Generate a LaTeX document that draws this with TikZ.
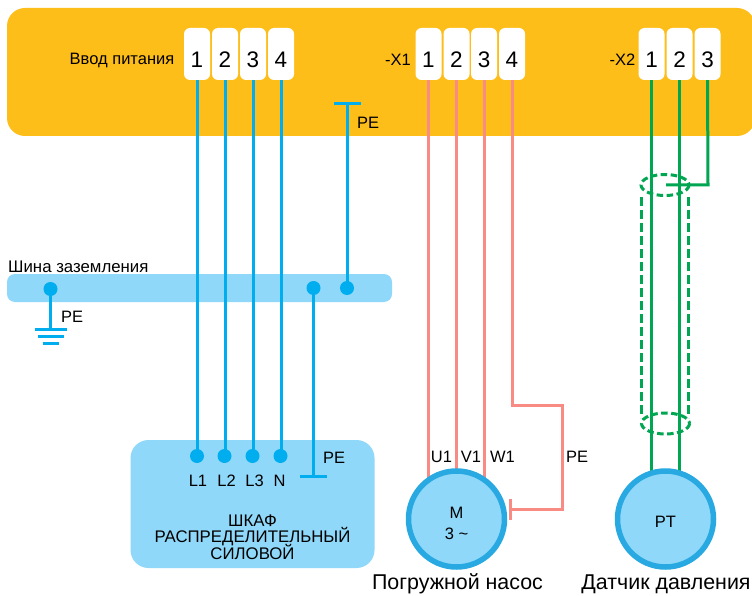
\documentclass[tikz,border=0pt]{standalone}
\usepackage{fontspec}
\setmainfont{Liberation Sans}
\definecolor{amberc}{HTML}{FEBE1A}
\definecolor{lightb}{HTML}{8FD8F9}
\definecolor{wireb}{HTML}{00AEEF}
\definecolor{ringb}{HTML}{29A9E1}
\definecolor{wirep}{HTML}{F98B85}
\definecolor{wireg}{HTML}{00A651}
\newcommand{\tightlines}{\setlength{\lineskiplimit}{-20pt}}
\tikzset{
  lbl/.style={inner sep=0pt,font=\fontsize{16.5}{18}\selectfont,text=black},
  biglbl/.style={inner sep=0pt,font=\fontsize{21.4}{24}\selectfont,text=black},
  termbox/.style={draw=none,fill=white,rounded corners=6pt,minimum width=26pt,minimum height=52pt,inner sep=0pt,font=\fontsize{22.5}{24}\selectfont,text=black},
  busw/.style={draw=wireb,line width=3pt},
  pinkw/.style={draw=wirep,line width=3pt},
  greenw/.style={draw=wireg,line width=3pt},
  shield/.style={draw=wireg,line width=3pt,dash pattern=on 6.5pt off 3.5pt},
  shieldside/.style={draw=wireg,line width=3pt,dash pattern=on 9pt off 4pt},
  dotb/.style={circle,fill=wireb,draw=none,minimum size=14pt,inner sep=0pt},
  ring/.style={circle,fill=lightb,draw=ringb,line width=5.5pt,minimum size=96pt,inner sep=0pt},
}
\begin{document}
\begin{tikzpicture}[x=1pt,y=-1pt]
\useasboundingbox (0,0) rectangle (752,596);
\fill[white] (0,0) rectangle (752,596);
% panels
\fill[amberc,rounded corners=18pt] (7,8) rectangle (755,136);
\fill[lightb,rounded corners=8pt] (7,274) rectangle (392,302);
\fill[lightb,rounded corners=18pt] (130.5,440) rectangle (374.5,568);
% terminals
\foreach \n/\x/\t in {a1/197/1,a2/225/2,a3/253/3,a4/281/4,b1/428.5/1,b2/456.5/2,b3/484/3,b4/512/4,c1/651.5/1,c2/679.5/2,c3/707.5/3}
  \node[termbox] (\n) at (\x,54) {\raisebox{-13.5pt}[0pt][0pt]{\t}};
% dots
\node[dotb] (d1) at (197,456) {};
\node[dotb] (d2) at (224.5,456) {};
\node[dotb] (d3) at (252.5,456) {};
\node[dotb] (d4) at (280.5,456) {};
\node[dotb] (g) at (50.5,289) {};
\node[dotb] (h) at (313.5,288) {};
\node[dotb] (i) at (347,288) {};
\coordinate (topbarL) at (333.5,104);
\coordinate (topbarR) at (360.5,104);
\coordinate (topbarM) at (347,104);
\coordinate (lowbarL) at (300,476.5);
\coordinate (lowbarR) at (327,476.5);
\coordinate (lowbarM) at (313.5,476.5);
\coordinate (gndM) at (50.5,329.5);
% blue wires
\draw[busw] (a1.south) -- (a1.south |- d1.center);
\draw[busw] (a2.south) -- (a2.south |- d2.center);
\draw[busw] (a3.south) -- (a3.south |- d3.center);
\draw[busw] (a4.south) -- (a4.south |- d4.center);
\draw[busw] (i.center) -- (topbarM);
\draw[busw] (topbarL) -- (topbarR);
\draw[busw] (h.center) -- (lowbarM);
\draw[busw] (lowbarL) -- (lowbarR);
\draw[busw] (g.center) -- (gndM);
\draw[busw] (35,329.5) -- (67,329.5);
\draw[busw] (38,336.5) -- (64,336.5);
\draw[busw] (42.5,343) -- (59,343);
% pink wires
\draw[pinkw] (b1.south) -- (428.5,480);
\draw[pinkw] (b2.south) -- (456.5,474);
\draw[pinkw] (b3.south) -- (484,480);
\coordinate (pbar) at (510.5,509);
\draw[pinkw] (b4.south) -- (512,405.5) -- (562,405.5) -- (562,509) -- (pbar);
\draw[pinkw] (510.5,498.5) -- (510.5,520);
% green wires
\draw[greenw] (c1.south) -- (651.5,474);
\draw[greenw] (c2.south) -- (679.5,474);
\coordinate (shtap) at (666,185);
\draw[greenw] (c3.south) -- (708,185) -- (shtap);
% shield
\draw[shield] (665,185) ellipse (24 and 10.5);
\draw[shield] (665.5,423.5) ellipse (24 and 10.5);
\draw[shieldside] (641.5,197) -- (641.5,418);
\draw[shieldside] (688.5,197) -- (688.5,418);
% devices
\node[ring] (m) at (456.5,519) {};
\node[ring] (pt) at (665.5,519) {};
% labels
\node[lbl] (mt) at (456.5,513) {M};
\node[lbl] (mt2) at (456.5,534) {3 \textasciitilde};
\node[lbl] (ptt) at (665.5,522) {PT};
\node[lbl,anchor=east] (t1) at (174.5,60) {Ввод питания};
\node[lbl,anchor=east] (t2) at (411,60) {-X1};
\node[lbl,anchor=east] (t3) at (635.5,60) {-X2};
\node[lbl,anchor=west] (t4) at (357,122.5) {PE};
\node[lbl,anchor=west,font=\fontsize{16.8}{18}\selectfont] (t5) at (8,266.5) {Шина заземления};
\node[lbl,anchor=west] (t6) at (61,316.5) {PE};
\node[lbl,anchor=west] (t7) at (323,458) {PE};
\node[lbl] (l1) at (198,480.5) {L1};
\node[lbl] (l2) at (226.5,480.5) {L2};
\node[lbl] (l3) at (254.5,480.5) {L3};
\node[lbl] (l4) at (279.5,480.5) {N};
\node[lbl,align=center,font=\fontsize{16.8}{16.7}\selectfont\tightlines] (box) at (252.5,537) {ШКАФ\\РАСПРЕДЕЛИТЕЛЬНЫЙ\\СИЛОВОЙ};
\node[lbl] (u) at (441.5,456.5) {U1};
\node[lbl] (v) at (471,456.5) {V1};
\node[lbl] (w) at (502.5,456.5) {W1};
\node[lbl,anchor=west] (pe) at (566,456.5) {PE};
\node[biglbl] (n1) at (457.5,584) {Погружной насос};
\node[biglbl] (n2) at (666,584) {Датчик давления};
\end{tikzpicture}
\end{document}
